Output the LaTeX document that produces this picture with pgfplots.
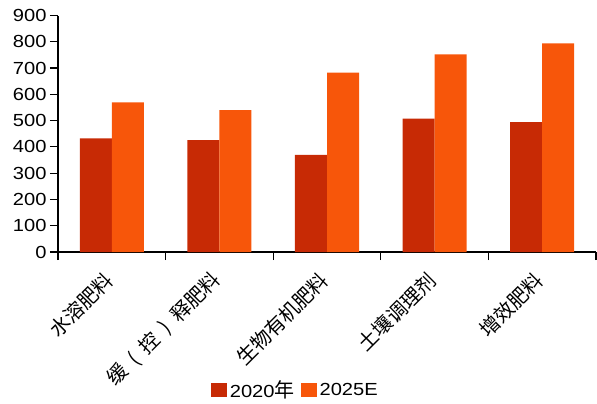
\documentclass[border=0pt]{standalone}
\usepackage{pgfplots}
\pgfplotsset{compat=1.18}
\usepackage{fontspec}
\setmainfont{Liberation Sans}[FakeStretch=1.15]
\newfontfamily\cjk{Noto Sans CJK SC}
\definecolor{c2020}{HTML}{C72A05}
\definecolor{c2025}{HTML}{F7560A}

\begin{document}
\begin{tikzpicture}
% page frame (reference is 597 x 403)
\path (-58pt,-151pt) rectangle (539pt,252pt);
\begin{axis}[
    scale only axis,
    width=538pt, height=236.5pt,
    ybar=0pt, bar width=32pt,
    xmin=-0.5, xmax=4.5, ymin=0, ymax=900,
    ytick={0,100,...,900},
    xtick={0,...,4},
    xticklabels={水溶肥料, 缓\hspace{0.45em}(\hspace{0.45em}控\hspace{0.45em})\hspace{0.45em}释肥料, 生物有机肥料, 土壤调理剂, 增效肥料},
    minor xtick={-0.5,0.5,...,4.5},
    axis x line*=bottom, axis y line*=left,
    axis line style={line width=1.2pt, black, -},
    tick align=outside,
    major tick length=8pt, minor tick length=8pt,
    tick style={line width=1.2pt, black},
    major x tick style={draw=none},
    xticklabel style={font=\cjk\fontsize{20}{20}\selectfont, rotate=45, anchor=east},
    xticklabel shift=14pt,
    yticklabel style={font=\fontsize{17.5}{18}\selectfont},
    /pgf/number format/assume math mode=true,
    legend style={at={(0.442,-0.584)}, anchor=center, draw=none,
      legend columns=2, font=\fontsize{17.5}{18}\selectfont,
      nodes={inner xsep=2.5pt},
      /tikz/every even column/.append style={column sep=4pt}},
    legend image code/.code={\fill[#1] (0pt,-7pt) rectangle (16pt,7pt);},
  ]
  \addplot[fill=c2020, draw=none] coordinates {(0,432) (1,426) (2,370) (3,508) (4,494)};
  \addplot[fill=c2025, draw=none] coordinates {(0,569) (1,540) (2,683) (3,752) (4,794)};
  \legend{2020{\cjk\fontsize{20}{20}\selectfont 年}, 2025E}
\end{axis}
\end{tikzpicture}
\end{document}
